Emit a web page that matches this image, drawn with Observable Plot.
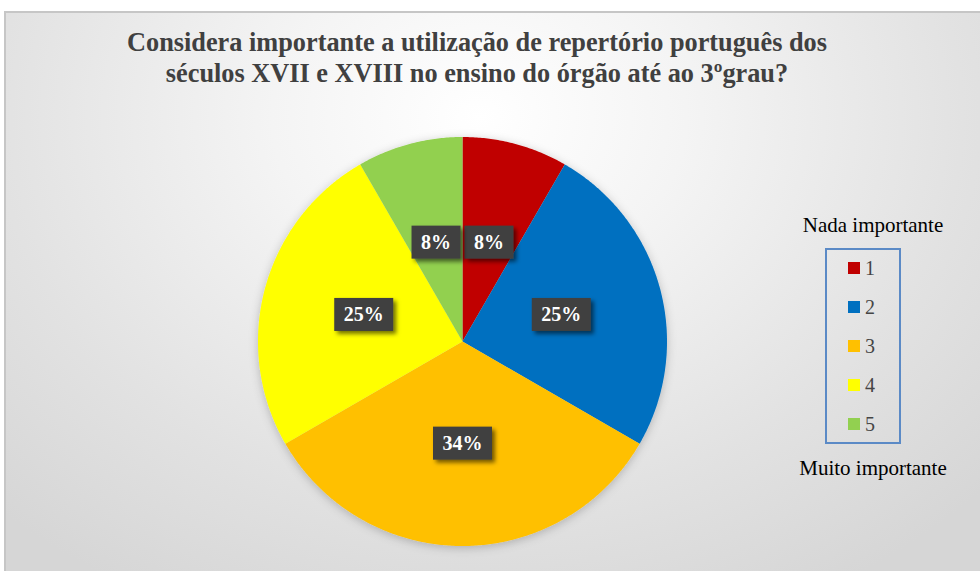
<!DOCTYPE html>
<html>
<head>
<meta charset="utf-8">
<script src="https://cdn.jsdelivr.net/npm/d3@7"></script>
<script src="https://cdn.jsdelivr.net/npm/@observablehq/plot@0.6"></script>
<style>
  body { margin: 0; background: #ffffff; }
  #chart { position: relative; width: 980px; height: 571px; overflow: hidden; font-family: "Liberation Serif", "Times New Roman", serif; }
  #panel { position: absolute; left: 4px; top: 11px; width: 990px; height: 580px; box-sizing: border-box;
           border: 2px solid #c6c6c6;
           background: radial-gradient(ellipse 70% 95% at 48% 18%, #ffffff 0%, #f4f4f4 30%, #e2e2e2 70%, #d6d6d6 100%); }
  #title { position: absolute; left: 0; top: 27px; width: 954px; text-align: center; font-weight: bold;
           font-family: "Liberation Serif", serif;
           font-size: 26.3px; line-height: 31px; color: #404040; white-space: nowrap; }
  #plot { position: absolute; left: 0; top: 0; }
  #plot svg text { font-family: "Liberation Serif", serif !important; }
  .leg-head { position: absolute; left: 773px; width: 200px; text-align: center; font-size: 21px; color: #000; white-space: nowrap;
              font-family: "Liberation Serif", serif; }
  #legbox { position: absolute; left: 825px; top: 248px; width: 76px; height: 196px; box-sizing: border-box; border: 2px solid #5b8ac6; }
  .leg-item { position: absolute; left: 848px; height: 20px; display: flex; align-items: center; font-size: 20px; line-height: 20px; color: #454545;
              font-family: "Liberation Serif", serif; }
  .leg-sw { width: 12px; height: 12px; margin-right: 5px; }
</style>
</head>
<body>
<div id="chart">
  <div id="panel"></div>
  <div id="title"></div>
  <div id="plot"></div>
  <div id="legbox"></div>
</div>
<script>
// ---- data ----
const titleLines = ["Considera importante a utilização de repertório português dos", "séculos XVII e XVIII no ensino do órgão até ao 3ºgrau?"];
const categories = ["1", "2", "3", "4", "5"];
const responses = [1, 3, 4, 3, 1];            // slice sizes (30°, 90°, 120°, 90°, 30°)
const percentLabels = ["8%", "25%", "34%", "25%", "8%"];
const colors = ["#C00000", "#0070C0", "#FFC000", "#FFFF00", "#92D050"];
const legendTop = "Nada importante";
const legendBottom = "Muito importante";

// ---- title ----
document.getElementById("title").innerHTML = titleLines.join("<br>");

// ---- pie geometry from data ----
const rows = categories.map((c, i) => ({ cat: c, value: responses[i], label: percentLabels[i] }));
const arcs = d3.pie().sort(null).value(d => d.value)(rows);
const slicePts = [];
arcs.forEach(a => {
  const n = Math.max(2, Math.ceil((a.endAngle - a.startAngle) / (Math.PI / 360)));
  slicePts.push({ cat: a.data.cat, x: 0, y: 0 });
  for (let i = 0; i <= n; i++) {
    const t = a.startAngle + (a.endAngle - a.startAngle) * i / n;
    slicePts.push({ cat: a.data.cat, x: Math.sin(t), y: Math.cos(t) });
  }
});
const labelPts = arcs.map(a => {
  const m = (a.startAngle + a.endAngle) / 2;
  return { cat: a.data.cat, label: a.data.label, x: 0.5 * Math.sin(m), y: 0.5 * Math.cos(m) };
});

// layout: centre (462, 341), radius 204.5 px
const W = 980, H = 571, cx = 462, cy = 341, R = 204.5;

const svg = Plot.plot({
  width: W, height: H,
  margin: 0,
  style: { background: "transparent", overflow: "visible", fontFamily: "Liberation Serif, serif" },
  x: { domain: [-cx / R, (W - cx) / R], range: [0, W], axis: null },
  y: { domain: [(cy - H) / R, cy / R], range: [H, 0], axis: null },
  color: { type: "ordinal", domain: categories, range: colors, legend: false },
  marks: [
    Plot.line(slicePts, { x: "x", y: "y", z: "cat", fill: "cat", stroke: "none", curve: "linear-closed", className: "pie-slices" }),
    Plot.text(labelPts, { x: "x", y: "y", text: "label", fill: "white", fontWeight: "bold", fontSize: 20,
                          fontFamily: "Liberation Serif", className: "pie-labels" })
  ]
});
document.getElementById("plot").appendChild(svg);

// shadows
const root = d3.select(svg);
const defs = root.insert("defs", ":first-child");
defs.append("filter").attr("id", "pieShadow").attr("x", "-20%").attr("y", "-20%").attr("width", "140%").attr("height", "140%")
  .append("feDropShadow").attr("dx", 0).attr("dy", 2).attr("stdDeviation", 5).attr("flood-color", "#000").attr("flood-opacity", 0.22);
defs.append("filter").attr("id", "lblShadow").attr("x", "-30%").attr("y", "-30%").attr("width", "170%").attr("height", "170%")
  .append("feDropShadow").attr("dx", 3).attr("dy", 3).attr("stdDeviation", 2).attr("flood-color", "#000").attr("flood-opacity", 0.55);
root.select("g.pie-slices").attr("filter", "url(#pieShadow)");

// label boxes behind the label text
root.selectAll("g.pie-labels text").each(function () {
  const b = this.getBBox();
  const padX = 9.5, h = 33;
  const r = document.createElementNS("http://www.w3.org/2000/svg", "rect");
  r.setAttribute("x", b.x - padX);
  r.setAttribute("y", b.y + b.height / 2 - h / 2);
  r.setAttribute("width", b.width + 2 * padX);
  r.setAttribute("height", h);
  r.setAttribute("fill", "#404040");
  r.setAttribute("filter", "url(#lblShadow)");
  const tr = this.getAttribute("transform");
  if (tr) r.setAttribute("transform", tr);
  this.parentNode.insertBefore(r, this);
});

// ---- legend ----
const chart = document.getElementById("chart");
const head = document.createElement("div");
head.className = "leg-head"; head.style.top = (232 - 19) + "px"; head.textContent = legendTop;
chart.appendChild(head);
const foot = document.createElement("div");
foot.className = "leg-head"; foot.style.top = (475 - 19) + "px"; foot.textContent = legendBottom;
chart.appendChild(foot);
const colorScale = svg.scale("color");
categories.forEach((c, i) => {
  const it = document.createElement("div");
  it.className = "leg-item";
  it.style.top = (268 + 39.1 * i - 10) + "px";
  const sw = document.createElement("span");
  sw.className = "leg-sw";
  sw.style.background = colorScale.apply(c);
  const tx = document.createElement("span");
  tx.textContent = c;
  it.appendChild(sw); it.appendChild(tx);
  chart.appendChild(it);
});
</script>
</body>
</html>
